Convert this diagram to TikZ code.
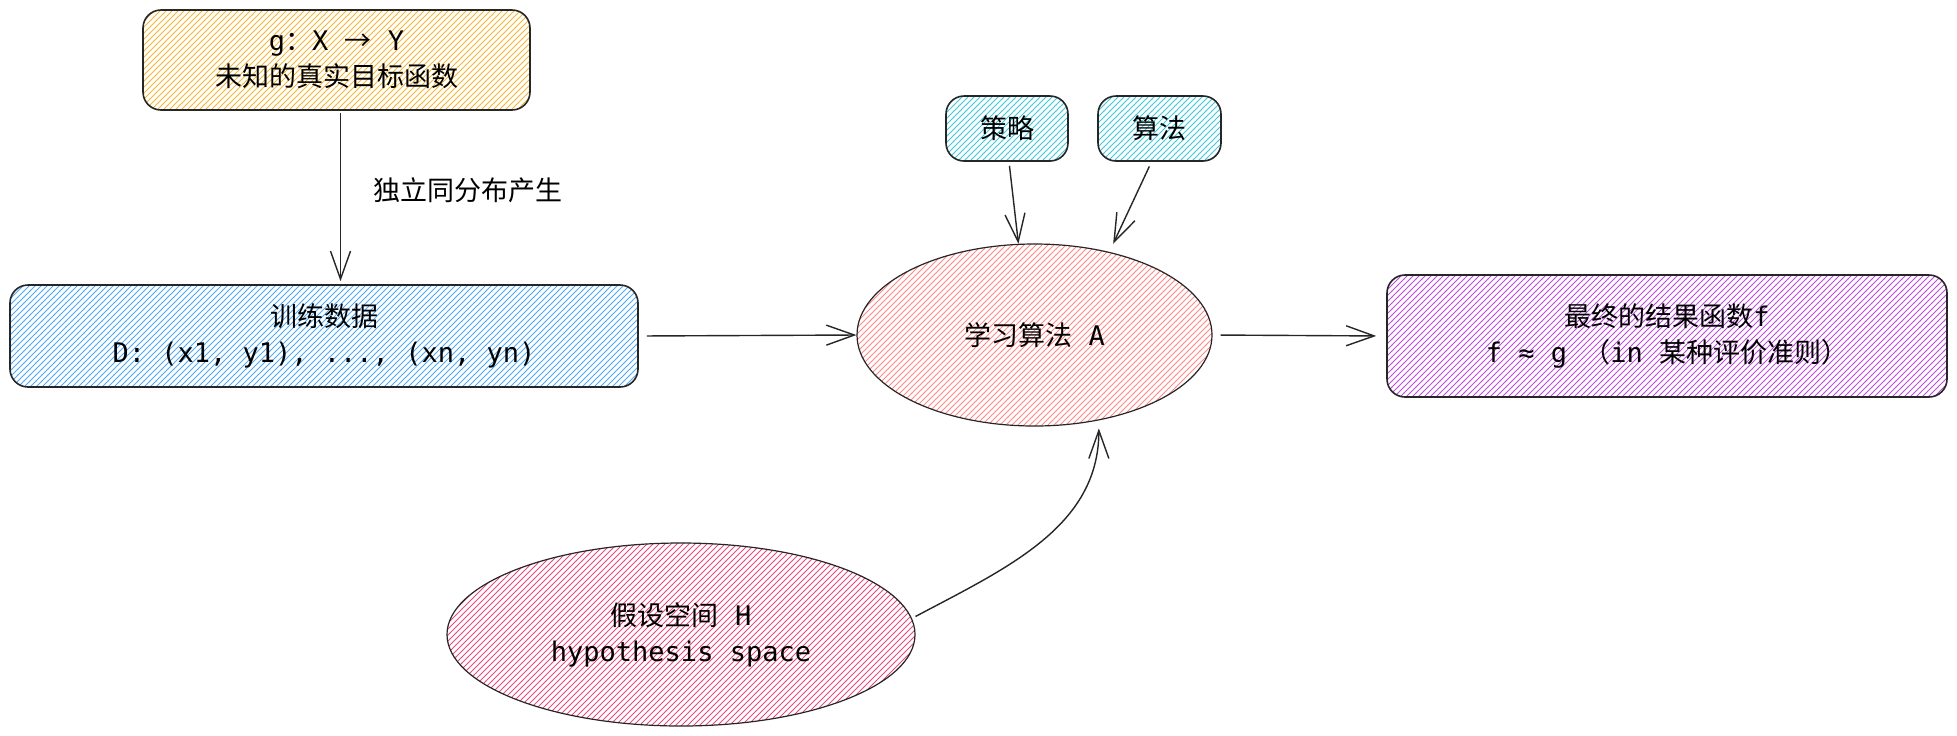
\documentclass[tikz,border=0pt]{standalone}
\usepackage{fontspec}
\setmainfont{Noto Sans CJK SC}
\setmonofont{DejaVu Sans Mono}
\usetikzlibrary{arrows.meta,patterns,shapes.geometric}

\definecolor{hatchyellow}{HTML}{F5B731}
\definecolor{hatchblue}{HTML}{4DABF7}
\definecolor{hatchcyan}{HTML}{3BC9DB}
\definecolor{hatchred}{HTML}{FF8787}
\definecolor{hatchpink}{HTML}{E64980}
\definecolor{hatchpurple}{HTML}{BE4BDB}

\tikzset{
  box/.style={draw=black!85, line width=0.8pt, rounded corners=9pt, align=center, inner sep=0pt},
  oval/.style={draw=black!85, line width=0.6pt, ellipse, align=center, inner sep=0pt},
  flow/.style={-{Straight Barb[length=14pt,width=10pt]}, line width=0.7pt, draw=black!85},
}

\begin{document}
\begin{tikzpicture}[x=0.5pt,y=-0.5pt,font=\fontsize{13.5}{18}\selectfont]
\path[fill=white] (0,0) rectangle (1957,735);
\useasboundingbox (0,0) rectangle (1957,735);

\node[box, pattern=north east lines, pattern color=hatchyellow,
  minimum width=193.5pt, minimum height=50pt] (gfun) at (336.5,60)
  {\texttt{g}：\texttt{X }→\texttt{ Y}\\未知的真实目标函数};
\node[box, pattern=north east lines, pattern color=hatchblue,
  minimum width=314pt, minimum height=51pt] (data) at (324,336)
  {训练数据\\\texttt{D: (x1, y1), ..., (xn, yn)}};
\node (iid) at (468,190) {独立同分布产生};
\node[box, pattern=north east lines, pattern color=hatchcyan,
  minimum width=61pt, minimum height=32.5pt] (strat) at (1007,128.5) {策略};
\node[box, pattern=north east lines, pattern color=hatchcyan,
  minimum width=61.5pt, minimum height=32.5pt] (algm) at (1159.5,128.5) {算法};
\node[oval, pattern=north east lines, pattern color=hatchred,
  minimum width=177.5pt, minimum height=91pt] (algo) at (1034.5,335)
  {学习算法\texttt{~A}};
\node[box, pattern=north east lines, pattern color=hatchpurple,
  minimum width=280pt, minimum height=61pt] (result) at (1667,336)
  {最终的结果函数\texttt{f}\\\texttt{f ≈ g }（\texttt{in~}某种评价准则）};
\node[oval, pattern=north east lines, pattern color=hatchpink,
  minimum width=234pt, minimum height=91.5pt] (hyp) at (681,634.5)
  {假设空间\texttt{~H}\\\texttt{hypothesis space}};

\draw[flow, shorten <=1pt, shorten >=1.5pt] ([xshift=2pt]gfun.south) -- ([xshift=2pt]gfun.south |- data.north);
\draw[flow, shorten <=4pt] (data.east) -- (algo.west);
\draw[flow, shorten <=4pt, shorten >=5pt] (algo.east) -- (result.west);
\draw[flow, shorten <=2pt] ([xshift=1pt]strat.south) -- (algo.100);
\draw[flow, shorten <=2.5pt, shorten >=4.5pt] ([xshift=-4pt]algm.south) -- (algo.48);
\draw[flow, shorten <=2pt, shorten >=4pt] (hyp.4) to[out=28, in=-90] (algo.-53);
\end{tikzpicture}
\end{document}
